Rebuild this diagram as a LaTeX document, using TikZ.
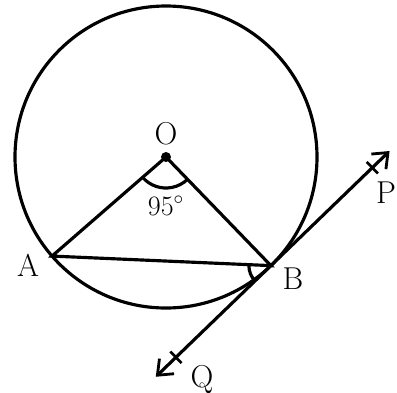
\documentclass[tikz,border=0pt]{standalone}
\usepackage{amsmath,amssymb}
\usepackage{tikz}
\usetikzlibrary{arrows.meta,calc}

\begin{document}
\begin{tikzpicture}[line width=1.8pt,
    lbl/.style={font=\fontsize{18}{21}\selectfont, inner sep=0pt},
    arr/.style={-{Straight Barb[length=2.6mm, width=4.2mm, line width=1.6pt]}},
    tick/.style={line width=1.5pt}
]
    \useasboundingbox (-3.32,3.14) rectangle (4.62,-4.70);
    \def\R{3.02}
    \coordinate (O) at (0,0);
    \coordinate (A) at (221:\R);
    \coordinate (B) at (314:\R);
    \coordinate (P) at ($(B)+(44:3.3)$);
    \coordinate (Q) at ($(B)+(224:3.2)$);

    \draw (O) circle (\R);
    \draw (A) -- (O) -- (B) -- cycle;
    \fill (O) circle (0.1);

    % tangent at B
    \draw[arr] (B) -- (P);
    \draw[arr] (B) -- (Q);
    \coordinate (tp) at ($(P)!0.48cm!(B)$);
    \coordinate (tq) at ($(Q)!0.56cm!(B)$);
    \draw[tick] ($(tp)!0.16cm!90:(P)$) -- ($(tp)!0.16cm!-90:(P)$);
    \draw[tick] ($(tq)!0.16cm!90:(Q)$) -- ($(tq)!0.16cm!-90:(Q)$);

    % angles
    \draw ($(O)+(221:0.62)$) arc (221:314:0.62);
    \draw ($(B)+(180:0.44)$) arc (180:224:0.44);

    \node[lbl] (lo) at (0,0.46) {O};
    \node[lbl, font=\fontsize{16}{18}\selectfont] (ang) at (0,-0.98) {95$^\circ$};
    \node[lbl] (la) at (-2.76,-2.16) {A};
    \node[lbl] (lb) at (2.54,-2.44) {B};
    \node[lbl] (lp) at (4.40,-0.72) {P};
    \node[lbl] (lq) at (0.72,-4.46) {Q};
\end{tikzpicture}
\end{document}
